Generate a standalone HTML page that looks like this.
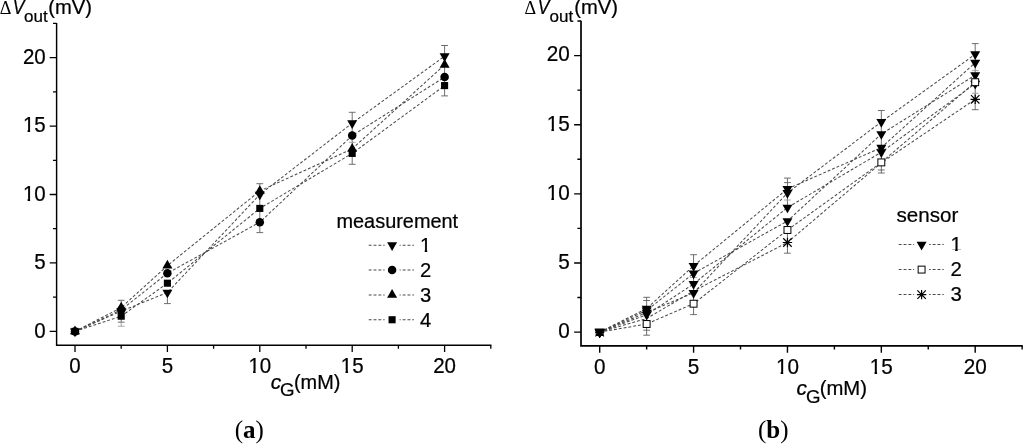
<!DOCTYPE html>
<html lang="en">
<head>
<meta charset="utf-8">
<title>Sensor output voltage versus glucose concentration</title>
<style>
html, body { margin: 0; padding: 0; background: #fff; }
body { width: 1024px; height: 444px; overflow: hidden; }
svg { display: block; position: absolute; left: 0; top: 0; }
svg text { font-family: "Liberation Sans", sans-serif; fill: #000; stroke: #000; stroke-width: 0.22px; }
svg text.sf { font-family: "Liberation Serif", serif; stroke: none; }
</style>
</head>
<body>
<svg width="1024" height="444" viewBox="0 0 1024 444">
<rect x="0" y="0" width="1024" height="444" fill="#fff"/>
<g id="panel-a" transform="translate(0.1 0.4)">
<path d="M56.50 22.60V344.80H491.30" fill="none" stroke="#000" stroke-width="1.45" stroke-linejoin="miter"/>
<path d="M56.50 331.00H49.60 M56.50 262.55H49.60 M56.50 194.10H49.60 M56.50 125.65H49.60 M56.50 57.20H49.60 M56.50 296.77H52.90 M56.50 228.32H52.90 M56.50 159.88H52.90 M56.50 91.43H52.90 M56.50 22.98H52.90 M74.90 344.80V351.70 M167.30 344.80V351.70 M259.70 344.80V351.70 M352.10 344.80V351.70 M444.50 344.80V351.70 M121.10 344.80V348.40 M213.50 344.80V348.40 M305.90 344.80V348.40 M398.30 344.80V348.40 M490.70 344.80V348.40" fill="none" stroke="#000" stroke-width="1.3"/>
<text transform="translate(45.60 337.10) scale(1 1.05)" text-anchor="end" font-size="20.5">0</text>
<text transform="translate(45.60 268.65) scale(1 1.05)" text-anchor="end" font-size="20.5">5</text>
<text transform="translate(45.60 200.20) scale(1 1.05)" text-anchor="end" font-size="20.5">10</text>
<text transform="translate(45.60 131.75) scale(1 1.05)" text-anchor="end" font-size="20.5">15</text>
<text transform="translate(45.60 63.30) scale(1 1.05)" text-anchor="end" font-size="20.5">20</text>
<text transform="translate(74.90 372.30) scale(1 1.05)" text-anchor="middle" font-size="20.5">0</text>
<text transform="translate(167.30 372.30) scale(1 1.05)" text-anchor="middle" font-size="20.5">5</text>
<text transform="translate(259.70 372.30) scale(1 1.05)" text-anchor="middle" font-size="20.5">10</text>
<text transform="translate(352.10 372.30) scale(1 1.05)" text-anchor="middle" font-size="20.5">15</text>
<text transform="translate(444.50 372.30) scale(1 1.05)" text-anchor="middle" font-size="20.5">20</text>
<rect x="23.21" y="198.00" width="4.26" height="2.90" fill="#fff"/><rect x="30.02" y="198.00" width="4.13" height="2.90" fill="#fff"/>
<rect x="248.71" y="370.10" width="4.26" height="2.90" fill="#fff"/><rect x="255.52" y="370.10" width="4.13" height="2.90" fill="#fff"/>
<rect x="23.21" y="129.55" width="4.26" height="2.90" fill="#fff"/><rect x="30.02" y="129.55" width="4.13" height="2.90" fill="#fff"/>
<rect x="341.11" y="370.10" width="4.26" height="2.90" fill="#fff"/><rect x="347.92" y="370.10" width="4.13" height="2.90" fill="#fff"/>
<text transform="translate(-0.40 13.30) scale(1 1.07)" class="sf" font-size="18.1">Δ</text>
<text transform="translate(12.60 13.60) scale(0.87 1)" font-size="20.0" font-style="italic">V</text>
<text x="24.00" y="21.40" font-size="17.0">out</text>
<text x="48.10" y="13.30" font-size="20.2">(mV)</text>
<text transform="translate(270.70 388.30) scale(1.04 1.03)" font-size="20.0" font-style="italic">c</text>
<text x="279.90" y="396.10" font-size="18.7">G</text>
<text x="293.90" y="388.50" font-size="19.9">(mM)</text>
<path d="M74.90 331.00 L121.10 310.75 L167.30 292.15 L259.70 194.15 L352.10 122.75 L444.50 55.85" fill="none" stroke="#484848" stroke-width="1.02" stroke-dasharray="2.9 1.95"/>
<path d="M74.90 331.00 L121.10 309.60 L167.30 272.80 L259.70 221.80 L352.10 135.20 L444.50 76.70" fill="none" stroke="#484848" stroke-width="1.02" stroke-dasharray="2.9 1.95"/>
<path d="M74.90 331.00 L121.10 307.25 L167.30 265.25 L259.70 190.55 L352.10 148.45 L444.50 64.45" fill="none" stroke="#484848" stroke-width="1.02" stroke-dasharray="2.9 1.95"/>
<path d="M74.90 331.00 L121.10 315.80 L167.30 282.80 L259.70 208.00 L352.10 153.00 L444.50 85.20" fill="none" stroke="#484848" stroke-width="1.02" stroke-dasharray="2.9 1.95"/>
<path d="M121.10 299.90V321.80 M117.70 299.90H124.50 M117.70 321.80H124.50" fill="none" stroke="#565656" stroke-width="0.85"/>
<path d="M121.10 321.80V325.80 M117.70 325.80H124.50" fill="none" stroke="#9a9a9a" stroke-width="0.85"/>
<path d="M167.30 293.60V303.20 M163.90 303.20H170.70" fill="none" stroke="#565656" stroke-width="0.85"/>
<path d="M259.70 183.30V232.20 M256.30 183.30H263.10 M256.30 232.20H263.10" fill="none" stroke="#565656" stroke-width="0.85"/>
<path d="M352.10 111.90V163.90 M348.70 111.90H355.50 M348.70 163.90H355.50" fill="none" stroke="#565656" stroke-width="0.85"/>
<path d="M348.70 141.90H355.50" fill="none" stroke="#9a9a9a" stroke-width="0.85"/>
<path d="M444.50 45.10V95.50 M441.10 45.10H447.90 M441.10 95.50H447.90" fill="none" stroke="#565656" stroke-width="0.85"/>
<polygon points="69.90,328.10 79.90,328.10 74.90,336.80" fill="#000"/>
<polygon points="116.10,307.85 126.10,307.85 121.10,316.55" fill="#000"/>
<polygon points="162.30,289.25 172.30,289.25 167.30,297.95" fill="#000"/>
<polygon points="254.70,191.25 264.70,191.25 259.70,199.95" fill="#000"/>
<polygon points="347.10,119.85 357.10,119.85 352.10,128.55" fill="#000"/>
<polygon points="439.50,52.95 449.50,52.95 444.50,61.65" fill="#000"/>
<circle cx="74.90" cy="331.00" r="4.25" fill="#000"/>
<circle cx="121.10" cy="309.60" r="4.25" fill="#000"/>
<circle cx="167.30" cy="272.80" r="4.25" fill="#000"/>
<circle cx="259.70" cy="221.80" r="4.25" fill="#000"/>
<circle cx="352.10" cy="135.20" r="4.25" fill="#000"/>
<circle cx="444.50" cy="76.70" r="4.25" fill="#000"/>
<polygon points="69.90,333.90 79.90,333.90 74.90,325.20" fill="#000"/>
<polygon points="116.10,310.15 126.10,310.15 121.10,301.45" fill="#000"/>
<polygon points="162.30,268.15 172.30,268.15 167.30,259.45" fill="#000"/>
<polygon points="254.70,193.45 264.70,193.45 259.70,184.75" fill="#000"/>
<polygon points="347.10,151.35 357.10,151.35 352.10,142.65" fill="#000"/>
<polygon points="439.50,67.35 449.50,67.35 444.50,58.65" fill="#000"/>
<rect x="71.35" y="327.45" width="7.10" height="7.10" fill="#000"/>
<rect x="117.55" y="312.25" width="7.10" height="7.10" fill="#000"/>
<rect x="163.75" y="279.25" width="7.10" height="7.10" fill="#000"/>
<rect x="256.15" y="204.45" width="7.10" height="7.10" fill="#000"/>
<rect x="348.55" y="149.45" width="7.10" height="7.10" fill="#000"/>
<rect x="440.95" y="81.65" width="7.10" height="7.10" fill="#000"/>
<text x="336.4" y="227.6" font-size="19.9">measurement</text>
<path d="M368.6 244.80H413.8" fill="none" stroke="#484848" stroke-width="1.02" stroke-dasharray="2.9 1.95"/>
<rect x="384.5" y="241.80" width="15" height="6" fill="#fff"/>
<polygon points="387.00,241.90 397.00,241.90 392.00,250.60" fill="#000"/>
<text x="420.0" y="251.60" font-size="20.2">1</text>
<rect x="420.40" y="249.54" width="4.19" height="2.76" fill="#fff"/><rect x="427.12" y="249.54" width="4.07" height="2.76" fill="#fff"/>
<path d="M368.6 269.65H413.8" fill="none" stroke="#484848" stroke-width="1.02" stroke-dasharray="2.9 1.95"/>
<rect x="384.5" y="266.65" width="15" height="6" fill="#fff"/>
<circle cx="392.00" cy="269.65" r="4.25" fill="#000"/>
<text x="420.0" y="276.45" font-size="20.2">2</text>
<path d="M368.6 294.50H413.8" fill="none" stroke="#484848" stroke-width="1.02" stroke-dasharray="2.9 1.95"/>
<rect x="384.5" y="291.50" width="15" height="6" fill="#fff"/>
<polygon points="387.00,297.40 397.00,297.40 392.00,288.70" fill="#000"/>
<text x="420.0" y="301.30" font-size="20.2">3</text>
<path d="M368.6 319.35H413.8" fill="none" stroke="#484848" stroke-width="1.02" stroke-dasharray="2.9 1.95"/>
<rect x="384.5" y="316.35" width="15" height="6" fill="#fff"/>
<rect x="388.45" y="315.80" width="7.10" height="7.10" fill="#000"/>
<text x="420.0" y="326.15" font-size="20.2">4</text>
<text x="249.2" y="437.6" text-anchor="middle" class="sf" font-size="25">(<tspan font-weight="bold">a</tspan>)</text>
</g>
<g id="panel-b" transform="translate(0.1 0.4)">
<path d="M580.90 20.30V345.40H1022.64" fill="none" stroke="#000" stroke-width="1.7" stroke-linejoin="miter"/>
<path d="M580.90 331.70H574.00 M580.90 262.57H574.00 M580.90 193.45H574.00 M580.90 124.32H574.00 M580.90 55.20H574.00 M580.90 297.14H577.30 M580.90 228.01H577.30 M580.90 158.89H577.30 M580.90 89.76H577.30 M580.90 20.64H577.30 M599.60 345.40V352.30 M693.48 345.40V352.30 M787.35 345.40V352.30 M881.23 345.40V352.30 M975.10 345.40V352.30 M646.54 345.40V349.00 M740.41 345.40V349.00 M834.29 345.40V349.00 M928.16 345.40V349.00 M1022.04 345.40V349.00" fill="none" stroke="#000" stroke-width="1.4"/>
<text transform="translate(569.60 337.55) scale(1 1.05)" text-anchor="end" font-size="20.7">0</text>
<text transform="translate(569.60 268.43) scale(1 1.05)" text-anchor="end" font-size="20.7">5</text>
<text transform="translate(569.60 199.30) scale(1 1.05)" text-anchor="end" font-size="20.7">10</text>
<text transform="translate(569.60 130.17) scale(1 1.05)" text-anchor="end" font-size="20.7">15</text>
<text transform="translate(569.60 61.05) scale(1 1.05)" text-anchor="end" font-size="20.7">20</text>
<text transform="translate(599.60 373.40) scale(1 1.05)" text-anchor="middle" font-size="20.7">0</text>
<text transform="translate(693.48 373.40) scale(1 1.05)" text-anchor="middle" font-size="20.7">5</text>
<text transform="translate(787.35 373.40) scale(1 1.05)" text-anchor="middle" font-size="20.7">10</text>
<text transform="translate(881.23 373.40) scale(1 1.05)" text-anchor="middle" font-size="20.7">15</text>
<text transform="translate(975.10 373.40) scale(1 1.05)" text-anchor="middle" font-size="20.7">20</text>
<rect x="546.99" y="197.08" width="4.30" height="2.92" fill="#fff"/><rect x="553.86" y="197.08" width="4.17" height="2.92" fill="#fff"/>
<rect x="776.25" y="371.18" width="4.30" height="2.92" fill="#fff"/><rect x="783.13" y="371.18" width="4.17" height="2.92" fill="#fff"/>
<rect x="546.99" y="127.96" width="4.30" height="2.92" fill="#fff"/><rect x="553.86" y="127.96" width="4.17" height="2.92" fill="#fff"/>
<rect x="870.13" y="371.18" width="4.30" height="2.92" fill="#fff"/><rect x="877.00" y="371.18" width="4.17" height="2.92" fill="#fff"/>
<text transform="translate(524.40 13.90) scale(1 1.07)" class="sf" font-size="18.1">Δ</text>
<text transform="translate(537.60 13.10) scale(0.87 1)" font-size="20.0" font-style="italic">V</text>
<text x="549.40" y="22.00" font-size="17.0">out</text>
<text x="574.10" y="13.90" font-size="20.2">(mV)</text>
<text transform="translate(796.40 394.10) scale(1.04 1.03)" font-size="20.0" font-style="italic">c</text>
<text x="806.00" y="402.20" font-size="18.7">G</text>
<text x="819.60" y="394.30" font-size="20.299999999999997">(mM)</text>
<path d="M599.60 331.70 L646.54 308.15 L693.48 265.45 L787.35 188.45 L881.23 147.25 L975.10 62.25" fill="none" stroke="#484848" stroke-width="1.02" stroke-dasharray="2.9 1.95"/>
<path d="M599.60 331.70 L646.54 309.95 L693.48 272.95 L787.35 220.65 L881.23 133.65 L975.10 74.75" fill="none" stroke="#484848" stroke-width="1.02" stroke-dasharray="2.9 1.95"/>
<path d="M599.60 331.70 L646.54 312.15 L693.48 292.45 L787.35 192.55 L881.23 121.45 L975.10 53.85" fill="none" stroke="#484848" stroke-width="1.02" stroke-dasharray="2.9 1.95"/>
<path d="M599.60 331.70 L646.54 314.35 L693.48 283.55 L787.35 207.15 L881.23 151.85 L975.10 83.25" fill="none" stroke="#484848" stroke-width="1.02" stroke-dasharray="2.9 1.95"/>
<path d="M599.60 331.70 L646.54 318.10 L693.48 290.60 L787.35 242.10 L881.23 162.40 L975.10 98.90" fill="none" stroke="#484848" stroke-width="1.02" stroke-dasharray="2.9 1.95"/>
<path d="M599.60 331.70 L646.54 323.60 L693.48 303.30 L787.35 229.60 L881.23 162.00 L975.10 81.80" fill="none" stroke="#484848" stroke-width="1.02" stroke-dasharray="2.9 1.95"/>
<path d="M646.54 296.90V334.80 M643.14 296.90H649.94 M643.14 334.80H649.94" fill="none" stroke="#565656" stroke-width="0.85"/>
<path d="M643.14 300.10H649.94" fill="none" stroke="#565656" stroke-width="0.85"/>
<path d="M643.14 329.80H649.94" fill="none" stroke="#565656" stroke-width="0.85"/>
<path d="M693.48 254.30V314.20 M690.08 254.30H696.88 M690.08 314.20H696.88" fill="none" stroke="#565656" stroke-width="0.85"/>
<path d="M690.08 277.10H696.88" fill="none" stroke="#9a9a9a" stroke-width="0.85"/>
<path d="M787.35 177.70V205.60 M783.95 177.70H790.75" fill="none" stroke="#565656" stroke-width="0.85"/>
<path d="M787.35 230.60V252.80 M783.95 252.80H790.75" fill="none" stroke="#565656" stroke-width="0.85"/>
<path d="M783.95 182.20H790.75" fill="none" stroke="#565656" stroke-width="0.85"/>
<path d="M783.95 199.60H790.75" fill="none" stroke="#9a9a9a" stroke-width="0.85"/>
<path d="M881.23 110.10V172.60 M877.83 110.10H884.62 M877.83 172.60H884.62" fill="none" stroke="#565656" stroke-width="0.85"/>
<path d="M877.83 169.60H884.62" fill="none" stroke="#565656" stroke-width="0.85"/>
<path d="M975.10 43.20V109.30 M971.70 43.20H978.50 M971.70 109.30H978.50" fill="none" stroke="#565656" stroke-width="0.85"/>
<path d="M971.70 70.20H978.50" fill="none" stroke="#9a9a9a" stroke-width="0.85"/>
<path d="M971.70 92.90H978.50" fill="none" stroke="#9a9a9a" stroke-width="0.85"/>
<path d="M787.35 237.40V246.80 M782.65 242.10H792.05 M783.12 237.87L791.58 246.33 M783.12 246.33L791.58 237.87" stroke="#000" stroke-width="1.2" fill="none"/><circle cx="787.35" cy="242.10" r="1.3" fill="#000"/>
<path d="M975.10 94.20V103.60 M970.40 98.90H979.80 M970.87 94.67L979.33 103.13 M970.87 103.13L979.33 94.67" stroke="#000" stroke-width="1.2" fill="none"/><circle cx="975.10" cy="98.90" r="1.3" fill="#000"/>
<polygon points="594.60,328.80 604.60,328.80 599.60,337.50" fill="#000"/>
<polygon points="641.54,305.25 651.54,305.25 646.54,313.95" fill="#000"/>
<polygon points="688.48,262.55 698.48,262.55 693.48,271.25" fill="#000"/>
<polygon points="782.35,185.55 792.35,185.55 787.35,194.25" fill="#000"/>
<polygon points="876.23,144.35 886.23,144.35 881.23,153.05" fill="#000"/>
<polygon points="970.10,59.35 980.10,59.35 975.10,68.05" fill="#000"/>
<polygon points="594.60,328.80 604.60,328.80 599.60,337.50" fill="#000"/>
<polygon points="641.54,307.05 651.54,307.05 646.54,315.75" fill="#000"/>
<polygon points="688.48,270.05 698.48,270.05 693.48,278.75" fill="#000"/>
<polygon points="782.35,217.75 792.35,217.75 787.35,226.45" fill="#000"/>
<polygon points="876.23,130.75 886.23,130.75 881.23,139.45" fill="#000"/>
<polygon points="970.10,71.85 980.10,71.85 975.10,80.55" fill="#000"/>
<polygon points="594.60,328.80 604.60,328.80 599.60,337.50" fill="#000"/>
<polygon points="641.54,309.25 651.54,309.25 646.54,317.95" fill="#000"/>
<polygon points="688.48,289.55 698.48,289.55 693.48,298.25" fill="#000"/>
<polygon points="782.35,189.65 792.35,189.65 787.35,198.35" fill="#000"/>
<polygon points="876.23,118.55 886.23,118.55 881.23,127.25" fill="#000"/>
<polygon points="970.10,50.95 980.10,50.95 975.10,59.65" fill="#000"/>
<polygon points="594.60,328.80 604.60,328.80 599.60,337.50" fill="#000"/>
<polygon points="641.54,311.45 651.54,311.45 646.54,320.15" fill="#000"/>
<polygon points="688.48,280.65 698.48,280.65 693.48,289.35" fill="#000"/>
<polygon points="782.35,204.25 792.35,204.25 787.35,212.95" fill="#000"/>
<polygon points="876.23,148.95 886.23,148.95 881.23,157.65" fill="#000"/>
<polygon points="970.10,80.35 980.10,80.35 975.10,89.05" fill="#000"/>
<rect x="643.09" y="320.15" width="6.90" height="6.90" fill="#fff" stroke="#000" stroke-width="1.0"/>
<rect x="690.02" y="299.85" width="6.90" height="6.90" fill="#fff" stroke="#000" stroke-width="1.0"/>
<rect x="783.90" y="226.15" width="6.90" height="6.90" fill="#fff" stroke="#000" stroke-width="1.0"/>
<rect x="877.77" y="158.55" width="6.90" height="6.90" fill="#fff" stroke="#000" stroke-width="1.0"/>
<rect x="971.65" y="78.35" width="6.90" height="6.90" fill="#fff" stroke="#000" stroke-width="1.0"/>
<path d="M599.60 331.70l-4.3 4.3M599.60 331.70l4.3 4.3M594.90 331.70h9.4M596.15 331.75v3.4h6.9v-3.4" fill="none" stroke="#000" stroke-width="1.1"/>
<polygon points="594.50,328.00 604.70,328.00 599.60,337.50" fill="#000"/>
<text x="896.4" y="221.6" font-size="20.6">sensor</text>
<path d="M898.6 244.20H943.6" fill="none" stroke="#484848" stroke-width="1.02" stroke-dasharray="2.9 1.95"/>
<rect x="914" y="241.20" width="15" height="6" fill="#fff"/>
<polygon points="916.50,241.30 926.50,241.30 921.50,250.00" fill="#000"/>
<text x="950.4" y="251.10" font-size="20.4">1</text>
<rect x="950.81" y="249.02" width="4.24" height="2.78" fill="#fff"/><rect x="957.59" y="249.02" width="4.11" height="2.78" fill="#fff"/>
<path d="M898.6 269.20H943.6" fill="none" stroke="#484848" stroke-width="1.02" stroke-dasharray="2.9 1.95"/>
<rect x="914" y="266.20" width="15" height="6" fill="#fff"/>
<rect x="918.05" y="265.75" width="6.90" height="6.90" fill="#fff" stroke="#000" stroke-width="1.0"/>
<text x="950.4" y="276.10" font-size="20.4">2</text>
<path d="M898.6 294.20H943.6" fill="none" stroke="#484848" stroke-width="1.02" stroke-dasharray="2.9 1.95"/>
<rect x="914" y="291.20" width="15" height="6" fill="#fff"/>
<path d="M921.50 289.50V298.90 M916.80 294.20H926.20 M917.27 289.97L925.73 298.43 M917.27 298.43L925.73 289.97" stroke="#000" stroke-width="1.2" fill="none"/><circle cx="921.50" cy="294.20" r="1.3" fill="#000"/>
<text x="950.4" y="301.10" font-size="20.4">3</text>
<text x="773.1" y="437.9" text-anchor="middle" class="sf" font-size="25">(<tspan font-weight="bold">b</tspan>)</text>
</g>
</svg>
</body>
</html>
